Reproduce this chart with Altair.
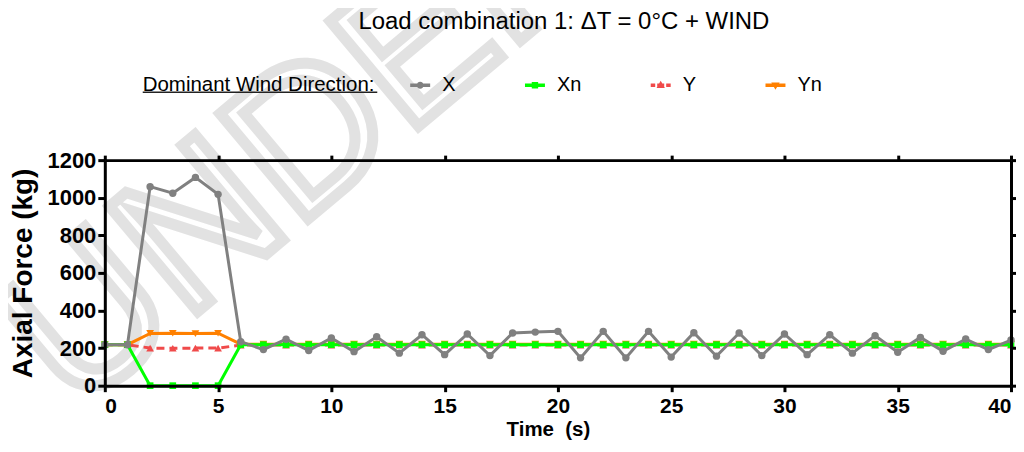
import altair as alt
import pandas as pd

# ---- data ----
time_s = [0, 1, 2, 3, 4, 5, 6, 7, 8, 9, 10, 11, 12, 13, 14, 15, 16, 17, 18, 19, 20,
          21, 22, 23, 24, 25, 26, 27, 28, 29, 30, 31, 32, 33, 34, 35, 36, 37, 38, 39, 40]

force_x = [218, 218, 1059, 1024, 1108, 1018, 234, 192, 247, 187, 254, 181, 260, 173, 271,
           165, 275, 160, 280, 285, 289, 148, 289, 148, 289, 152, 282, 157, 280, 160, 275,
           165, 271, 173, 266, 178, 257, 183, 248, 192, 243]
force_xn = [218, 218, 0, 0, 0, 0, 218, 218, 218, 218, 218, 218, 218, 218, 218, 218, 218,
            218, 218, 218, 218, 218, 218, 218, 218, 218, 218, 218, 218, 218, 218, 218, 218,
            218, 218, 218, 218, 218, 218, 218, 218]
force_y = [218, 218, 200, 199, 200, 200, 216, 216, 216, 216, 216, 216, 216, 216, 216, 216,
           216, 216, 216, 216, 216, 216, 216, 216, 216, 216, 216, 216, 216, 216, 216, 216,
           216, 216, 216, 216, 216, 216, 216, 216, 216]
force_yn = [218, 218, 278, 279, 277, 279, 221, 221, 221, 221, 221, 221, 221, 221, 221, 221,
            221, 221, 221, 221, 221, 221, 221, 221, 221, 221, 221, 221, 221, 221, 221, 221,
            221, 221, 221, 221, 221, 221, 221, 221, 221]

series_names = ["X", "Xn", "Y", "Yn"]
series_colors = ["#808080", "#00ff00", "#f04a4a", "#ff8000"]
x_ticks = [0, 5, 10, 15, 20, 25, 30, 35, 40]
y_ticks = [0, 200, 400, 600, 800, 1000, 1200]

chart_title = "Load combination 1: \u0394T = 0\u00b0C + WIND"
legend_title = "Dominant Wind Direction:"
x_title = "Time \u00a0(s)"
y_title = "Axial Force (kg)"
watermark_text = "UNDER REVIEW"

FONT = "Liberation Sans"

rows = []
for name, vals in zip(series_names, [force_x, force_xn, force_y, force_yn]):
    for t, v in zip(time_s, vals):
        rows.append({"t": t, "force": v, "series": name})
df = pd.DataFrame(rows)
color_of = dict(zip(series_names, series_colors))

# legend symbols: a short line with the marker on it
line_full = "M-1,-0.17L1,-0.17L1,0.17L-1,0.17Z"
line_dash = ("M-1,-0.17L-0.55,-0.17L-0.55,0.17L-1,0.17Z "
             "M0.55,-0.17L1,-0.17L1,0.17L0.55,0.17Z "
             "M-0.35,-0.17L0.35,-0.17L0.35,0.17L-0.35,0.17Z")
legend_shapes = [
    line_full + " M0.35,0A0.35,0.35,0,1,1,-0.35,0A0.35,0.35,0,1,1,0.35,0Z",
    line_full + " M-0.32,-0.32L0.32,-0.32L0.32,0.32L-0.32,0.32Z",
    line_dash + " M0,-0.45L0.42,0.28L-0.42,0.28Z",
    line_full + " M-0.42,-0.28L0.42,-0.28L0,0.45Z",
]

legend = alt.Legend(
    title=legend_title,
    orient="none", legendX=38, legendY=-85,
    direction="horizontal", titleOrient="left",
    titleFont=FONT, titleFontSize=20.5, titleFontWeight="normal", titleColor="black",
    titlePadding=35, titleBaseline="middle", titleLimit=400,
    labelFont=FONT, labelFontSize=20, labelColor="black", labelOffset=12,
    columnPadding=69, symbolSize=400, symbolStrokeWidth=0, symbolOpacity=1,
)

x_scale = alt.Scale(domain=[0, 40], nice=False)
y_scale = alt.Scale(domain=[0, 1200], nice=False)

axis_common = dict(domainColor="black", domainWidth=3, tickColor="black", tickWidth=3,
                   labelColor="black", labelFont=FONT, labelFontWeight="bold",
                   titleFont=FONT, titleFontWeight="bold", titleColor="black", grid=False,
                   zindex=1)

x_axis = alt.Axis(values=x_ticks, labelFontSize=21, tickSize=6, labelPadding=4,
                  title=x_title, titleFontSize=20.5, titleX=444, titleY=50,
                  titleAlign="center", titleBaseline="alphabetic", **axis_common)
y_axis = alt.Axis(values=y_ticks, format="d", labelFontSize=22, tickSize=7, labelPadding=2,
                  title=y_title, titleFontSize=28, titlePadding=10, **axis_common)

markers = {"X": ("circle", 55), "Xn": ("square", 45), "Y": ("triangle-up", 60), "Yn": ("triangle-down", 60)}
draw_order = ["Y", "Yn", "Xn", "X"]

series_layers = []
for name in draw_order:
    base = alt.Chart(df).transform_filter(alt.datum.series == name)
    enc = dict(
        x=alt.X("t:Q", scale=x_scale, axis=x_axis),
        y=alt.Y("force:Q", scale=y_scale, axis=y_axis),
    )
    line_kw = dict(strokeWidth=3, color=color_of[name])
    if name == "Y":
        line_kw["strokeDash"] = [8, 5]
    lines = base.mark_line(**line_kw).encode(**enc)
    shape, size = markers[name]
    pts = base.mark_point(shape=shape, size=size, filled=True, opacity=1,
                          color=color_of[name]).encode(**enc)
    series_layers += [lines, pts]

data_layer = alt.layer(*series_layers)

# mirrored axes (top/right) with ticks only, forming the frame
frame_axis_common = dict(domainColor="black", domainWidth=3, tickColor="black", tickWidth=3,
                         labels=False, title=None, grid=False, zindex=1)
frame = alt.Chart(df).transform_filter(alt.datum.series == "X").mark_point(opacity=0).encode(
    x=alt.X("t:Q", scale=x_scale, axis=alt.Axis(orient="top", values=x_ticks, tickSize=5, **frame_axis_common)),
    y=alt.Y("force:Q", scale=y_scale, axis=alt.Axis(orient="right", values=y_ticks, tickSize=6, **frame_axis_common)),
)

# legend carrier: no marks drawn, only the legend from the explicit scale domains
legend_carrier = alt.Chart(df).transform_filter("false").mark_point(filled=True).encode(
    color=alt.Color("series:N", scale=alt.Scale(domain=series_names, range=series_colors), legend=legend),
    shape=alt.Shape("series:N", scale=alt.Scale(domain=series_names, range=legend_shapes), legend=legend),
)

underline = alt.Chart(pd.DataFrame({"u": [0]})).mark_rule(color="#222222", strokeWidth=1.3).encode(
    x=alt.value(38), x2=alt.value(273), y=alt.value(-68)
)

title_mark = alt.Chart(pd.DataFrame({"title": [chart_title]})).mark_text(
    font=FONT, fontSize=24, align="center", baseline="alphabetic", color="black"
).encode(x=alt.value(460), y=alt.value(-131), text="title:N")

watermark = alt.Chart(pd.DataFrame({"w": [watermark_text]})).mark_text(
    angle=320, fontSize=200, font=FONT, align="left", baseline="alphabetic",
    fillOpacity=0, stroke="#e2e2e2", strokeWidth=11
).encode(x=alt.value(-30), y=alt.value(255), text="w:N")

chart = alt.layer(watermark, data_layer, frame, legend_carrier, underline, title_mark).resolve_axis(
    x="independent", y="independent"
).properties(
    width=908, height=226,
    autosize=alt.AutoSizeParams(type="none"),
    padding={"left": 97, "top": 152, "right": 5, "bottom": 54},
).configure_view(stroke=None).configure(background="white")

chart.save("out.html", embed_options={"renderer": "svg", "actions": False})
